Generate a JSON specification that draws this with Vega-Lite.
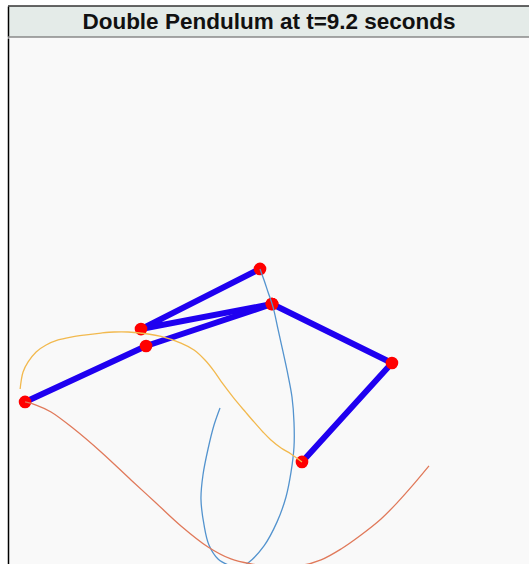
{
  "$schema": "https://vega.github.io/schema/vega-lite/v6.json",
  "background": "white",
  "padding": {"left": 7, "top": 5, "right": 0, "bottom": 0},
  "spacing": 0,
  "config": {
    "view": {"stroke": null},
    "axis": {"domainColor": "black", "domainWidth": 1.5, "ticks": false, "labels": false, "grid": false, "title": null}
  },
  "datasets": {
    "rods": [
      {"pend": "A", "i": 0, "x": 0, "y": 0},
      {"pend": "A", "i": 1, "x": -0.983, "y": -0.188},
      {"pend": "A", "i": 2, "x": -0.090, "y": 0.263},
      {"pend": "B", "i": 0, "x": 0, "y": 0},
      {"pend": "B", "i": 1, "x": -0.945, "y": -0.315},
      {"pend": "B", "i": 2, "x": -1.853, "y": -0.735},
      {"pend": "C", "i": 0, "x": 0, "y": 0},
      {"pend": "C", "i": 1, "x": 0.900, "y": -0.443},
      {"pend": "C", "i": 2, "x": 0.225, "y": -1.185}
    ],
    "traces": [
      {"pend": "A", "i": 0, "x": -0.390, "y": -0.780},
      {"pend": "A", "i": 1, "x": -0.435, "y": -0.908},
      {"pend": "A", "i": 2, "x": -0.480, "y": -1.088},
      {"pend": "A", "i": 3, "x": -0.518, "y": -1.283},
      {"pend": "A", "i": 4, "x": -0.533, "y": -1.463},
      {"pend": "A", "i": 5, "x": -0.510, "y": -1.658},
      {"pend": "A", "i": 6, "x": -0.473, "y": -1.808},
      {"pend": "A", "i": 7, "x": -0.405, "y": -1.913},
      {"pend": "A", "i": 8, "x": -0.330, "y": -1.958},
      {"pend": "A", "i": 9, "x": -0.255, "y": -1.981},
      {"pend": "A", "i": 10, "x": -0.180, "y": -1.943},
      {"pend": "A", "i": 11, "x": -0.060, "y": -1.815},
      {"pend": "A", "i": 12, "x": 0.038, "y": -1.635},
      {"pend": "A", "i": 13, "x": 0.105, "y": -1.448},
      {"pend": "A", "i": 14, "x": 0.143, "y": -1.260},
      {"pend": "A", "i": 15, "x": 0.165, "y": -1.073},
      {"pend": "A", "i": 16, "x": 0.165, "y": -0.885},
      {"pend": "A", "i": 17, "x": 0.150, "y": -0.698},
      {"pend": "A", "i": 18, "x": 0.120, "y": -0.533},
      {"pend": "A", "i": 19, "x": 0.083, "y": -0.360},
      {"pend": "A", "i": 20, "x": 0.045, "y": -0.188},
      {"pend": "A", "i": 21, "x": 0.008, "y": -0.023},
      {"pend": "A", "i": 22, "x": -0.030, "y": 0.090},
      {"pend": "A", "i": 23, "x": -0.060, "y": 0.180},
      {"pend": "A", "i": 24, "x": -0.090, "y": 0.263},
      {"pend": "B", "i": 0, "x": 1.178, "y": -1.215},
      {"pend": "B", "i": 1, "x": 1.065, "y": -1.350},
      {"pend": "B", "i": 2, "x": 0.945, "y": -1.485},
      {"pend": "B", "i": 3, "x": 0.818, "y": -1.613},
      {"pend": "B", "i": 4, "x": 0.668, "y": -1.733},
      {"pend": "B", "i": 5, "x": 0.518, "y": -1.838},
      {"pend": "B", "i": 6, "x": 0.368, "y": -1.920},
      {"pend": "B", "i": 7, "x": 0.203, "y": -1.966},
      {"pend": "B", "i": 8, "x": 0.030, "y": -1.973},
      {"pend": "B", "i": 9, "x": -0.158, "y": -1.950},
      {"pend": "B", "i": 10, "x": -0.308, "y": -1.913},
      {"pend": "B", "i": 11, "x": -0.480, "y": -1.823},
      {"pend": "B", "i": 12, "x": -0.683, "y": -1.665},
      {"pend": "B", "i": 13, "x": -0.870, "y": -1.493},
      {"pend": "B", "i": 14, "x": -1.058, "y": -1.320},
      {"pend": "B", "i": 15, "x": -1.283, "y": -1.110},
      {"pend": "B", "i": 16, "x": -1.485, "y": -0.938},
      {"pend": "B", "i": 17, "x": -1.658, "y": -0.810},
      {"pend": "B", "i": 18, "x": -1.770, "y": -0.758},
      {"pend": "B", "i": 19, "x": -1.853, "y": -0.735},
      {"pend": "C", "i": 0, "x": -1.890, "y": -0.638},
      {"pend": "C", "i": 1, "x": -1.868, "y": -0.510},
      {"pend": "C", "i": 2, "x": -1.830, "y": -0.435},
      {"pend": "C", "i": 3, "x": -1.770, "y": -0.360},
      {"pend": "C", "i": 4, "x": -1.695, "y": -0.308},
      {"pend": "C", "i": 5, "x": -1.605, "y": -0.270},
      {"pend": "C", "i": 6, "x": -1.508, "y": -0.248},
      {"pend": "C", "i": 7, "x": -1.410, "y": -0.233},
      {"pend": "C", "i": 8, "x": -1.283, "y": -0.218},
      {"pend": "C", "i": 9, "x": -1.185, "y": -0.210},
      {"pend": "C", "i": 10, "x": -1.080, "y": -0.210},
      {"pend": "C", "i": 11, "x": -0.930, "y": -0.225},
      {"pend": "C", "i": 12, "x": -0.833, "y": -0.243},
      {"pend": "C", "i": 13, "x": -0.683, "y": -0.293},
      {"pend": "C", "i": 14, "x": -0.585, "y": -0.345},
      {"pend": "C", "i": 15, "x": -0.503, "y": -0.420},
      {"pend": "C", "i": 16, "x": -0.435, "y": -0.503},
      {"pend": "C", "i": 17, "x": -0.368, "y": -0.600},
      {"pend": "C", "i": 18, "x": -0.285, "y": -0.708},
      {"pend": "C", "i": 19, "x": -0.195, "y": -0.815},
      {"pend": "C", "i": 20, "x": -0.135, "y": -0.885},
      {"pend": "C", "i": 21, "x": -0.068, "y": -0.960},
      {"pend": "C", "i": 22, "x": -0.008, "y": -1.020},
      {"pend": "C", "i": 23, "x": 0.068, "y": -1.080},
      {"pend": "C", "i": 24, "x": 0.143, "y": -1.125},
      {"pend": "C", "i": 25, "x": 0.225, "y": -1.185}
    ]
  },
  "vconcat": [
    {
      "width": 522,
      "height": 31,
      "view": {"fill": "#e4ebe8", "stroke": null},
      "data": {"values": [{"title": "Double Pendulum at t=9.2 seconds"}]},
      "layer": [
        {
          "mark": {"type": "rule", "color": "#888888", "strokeWidth": 1.5},
          "encoding": {"y": {"datum": 0, "type": "quantitative", "scale": {"domain": [0, 1]}}}
        },
        {
          "mark": {"type": "rule", "color": "#333333", "strokeWidth": 1.5},
          "encoding": {"y": {"datum": 1, "type": "quantitative"}}
        },
        {
          "mark": {"type": "text", "font": "Liberation Sans", "fontWeight": "bold", "fontSize": 22.5, "color": "#111111", "baseline": "middle", "align": "center"},
          "encoding": {"text": {"field": "title", "type": "nominal"}}
        }
      ]
    },
    {
      "width": 522,
      "height": 528,
      "view": {"fill": "#f9f9f9", "stroke": null},
      "layer": [
        {
          "data": {"name": "rods"},
          "mark": {"type": "line", "color": "#1f00f0", "strokeWidth": 6, "strokeCap": "round", "strokeJoin": "round", "clip": true},
          "encoding": {
            "x": {"field": "x", "type": "quantitative", "scale": {"domain": [-1.981, 1.936], "nice": false, "zero": false}, "axis": null},
            "y": {"field": "y", "type": "quantitative", "scale": {"domain": [-1.966, 1.996], "nice": false, "zero": false}},
            "detail": {"field": "pend", "type": "nominal"},
            "order": {"field": "i", "type": "quantitative"}
          }
        },
        {
          "data": {"name": "rods"},
          "mark": {"type": "circle", "color": "#ff0000", "size": 160, "opacity": 1, "clip": true},
          "encoding": {
            "x": {"field": "x", "type": "quantitative", "axis": null},
            "y": {"field": "y", "type": "quantitative"}
          }
        },
        {
          "data": {"name": "traces"},
          "mark": {"type": "line", "strokeWidth": 1.3, "interpolate": "catmull-rom", "clip": true},
          "encoding": {
            "x": {"field": "x", "type": "quantitative", "axis": null},
            "y": {"field": "y", "type": "quantitative"},
            "color": {"field": "pend", "type": "nominal", "legend": null, "scale": {"domain": ["A", "B", "C"], "range": ["#5393ce", "#e0795a", "#f2b94e"]}},
            "order": {"field": "i", "type": "quantitative"}
          }
        }
      ]
    }
  ]
}
